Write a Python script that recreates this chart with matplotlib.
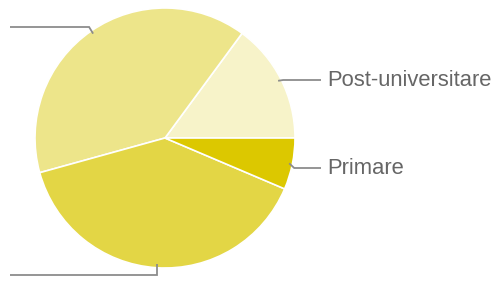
#!/usr/bin/env python3
"""Pie chart of education levels (Romanian labels)."""
import numpy as np
import matplotlib
matplotlib.use('Agg')
import matplotlib.pyplot as plt

# slices, counterclockwise from 3 o'clock
labels = ['Post-universitare', 'Superioare', 'Medii', 'Primare']
shares = [14.9, 39.4, 39.3, 6.4]
colors = ['#F7F3C9', '#EDE58A', '#E3D645', '#DCC800']
show_label = [True, False, False, True]
# label row (pixel y) for each slice, and side
label_y = [80, 27, 275, 168]
side = ['right', 'left', 'left', 'right']

W, H = 492, 287
CX, CY, R = 165, 138, 130


def main() -> None:
    fig = plt.figure(figsize=(W / 100, H / 100), dpi=100)
    ax = fig.add_axes([0, 0, 1, 1])

    wedges, _ = ax.pie(shares, colors=colors, startangle=0, counterclock=True,
                       center=(CX, H - CY), radius=R, frame=True,
                       wedgeprops=dict(edgecolor='white', linewidth=1.2))
    ax.set_xlim(0, W)
    ax.set_ylim(0, H)
    ax.set_aspect('equal')
    ax.axis('off')

    for w, lab, ly, sd, show in zip(wedges, labels, label_y, side, show_label):
        mid = np.deg2rad((w.theta1 + w.theta2) / 2)
        x0 = CX + 0.975 * R * np.cos(mid)
        y0 = (H - CY) + 0.975 * R * np.sin(mid)
        yl = H - ly
        if sd == 'right':
            xs = [x0, x0 + 5, 321]
            ys = [y0, yl, yl]
        else:
            xe = x0 - 4 if abs(y0 - yl) < 10 else x0
            xs = [x0, xe, 10]
            ys = [y0, yl, yl]
        ax.plot(xs, ys, color='#8c8c8c', lw=1.3, solid_capstyle='butt',
                solid_joinstyle='miter')
        if show:
            ax.text(327, yl, lab, ha='left', va='center', color='#666666',
                    fontsize=15.8, family='Liberation Sans')

    fig.savefig('out.png', dpi=100)
    plt.close(fig)


if __name__ == '__main__':
    main()
